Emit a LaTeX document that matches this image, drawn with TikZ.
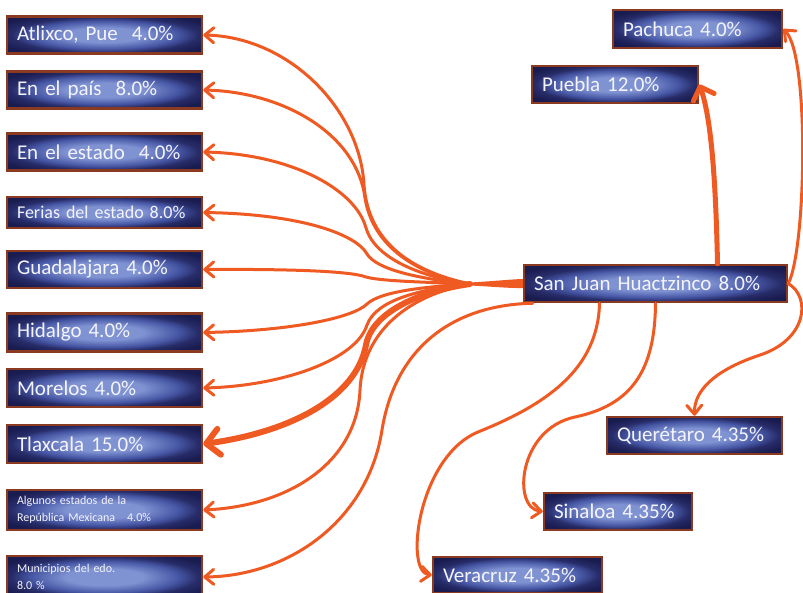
\documentclass[tikz,border=0pt]{standalone}
\usepackage{fontspec}
\setmainfont{Carlito}[WordSpace=0.75]
\usetikzlibrary{arrows.meta}
\definecolor{Flame}{HTML}{EF5A22}
\definecolor{TagBorder}{HTML}{8B3A22}
\definecolor{TagDark}{HTML}{1A1C50}
\definecolor{TagDeep}{HTML}{272C68}
\definecolor{TagMid}{HTML}{4656A4}
\definecolor{TagLight}{HTML}{7F92D2}
\definecolor{TagText}{HTML}{F4F4FA}
\pgfdeclareradialshading{tagglow}{\pgfpointorigin}{%
  color(0bp)=(TagLight); color(10bp)=(TagLight); color(19bp)=(TagMid);
  color(24bp)=(TagDeep); color(30bp)=(TagDark); color(50bp)=(TagDark)}

\begin{document}
\begin{tikzpicture}[
    x=1pt, y=-1pt,
    destination/.style={
        shade, shading=tagglow,
        draw=TagBorder, line width=2.5pt,
        text width=#1, align=left,
        inner xsep=10pt, inner ysep=0pt,
        minimum height=37pt,
        text=TagText,
        font=\fontsize{21}{25}\selectfont
    },
    small label/.style={font=\fontsize{12}{17}\selectfont},
    flow/.style={draw=Flame, line width=3pt, line cap=round,
                 -{Straight Barb[round,length=9pt,width=15pt]}},
    heavy flow/.style={flow, line width=6pt,
                 -{Straight Barb[round,length=13pt,width=26pt]}}
]
\path[use as bounding box, fill=white] (0,0) rectangle (803,593);

% Destinations on the left
\node[destination=175pt] (atlixco) at (104.5,35) {Atlixco, Pue\ \ 4.0\%};
\node[destination=175pt] (pais) at (104.5,90) {En el país\ \ 8.0\%};
\node[destination=175pt] (estado) at (104.5,152) {En el estado\ \ 4.0\%};
\node[destination=175pt, minimum height=31pt, font=\fontsize{18}{22}\selectfont]
    (ferias) at (104.5,212.5) {Ferias del estado 8.0\%};
\node[destination=175pt] (guadalajara) at (104.5,269.5) {Guadalajara 4.0\%};
\node[destination=175pt, minimum height=38pt] (hidalgo) at (104.5,332.5) {Hidalgo 4.0\%};
\node[destination=175pt, minimum height=38pt] (morelos) at (104.5,388) {Morelos 4.0\%};
\node[destination=175pt, minimum height=38pt] (tlaxcala) at (104.5,444) {Tlaxcala 15.0\%};
\node[destination=175pt, small label, minimum height=40pt] (algunos) at (104.5,510)
    {Algunos estados de la\\República Mexicana\ \ \ 4.0\%};
\node[destination=175pt, small label, minimum height=42pt] (municipios) at (104.5,577)
    {Municipios del edo.\\8.0 \%};

% Origin and destinations on the right
\node[destination=243pt] (sanjuan) at (655.5,283.5) {San Juan Huactzinco 8.0\%};
\node[destination=149pt, minimum height=38pt] (pachuca) at (697.5,29) {Pachuca 4.0\%};
\node[destination=146pt] (puebla) at (615,84.5) {Puebla 12.0\%};
\node[destination=155pt] (queretaro) at (694.5,435.5) {Querétaro 4.35\%};
\node[destination=128pt] (sinaloa) at (618,511.5) {Sinaloa 4.35\%};
\node[destination=149pt, minimum height=36pt] (veracruz) at (517.5,575) {Veracruz 4.35\%};

% Trunk of the fan
\coordinate (hub) at (470,284);
\coordinate (tail) at (430,284);
\fill[Flame] (tail) .. controls (480,283) and (505,279.5) .. ([yshift=4.5pt]sanjuan.west)
    -- ([yshift=-4.5pt]sanjuan.west) .. controls (505,288.5) and (480,285) .. cycle;

% Fan towards the left column
\draw[flow] (hub) .. controls (405,270) and (368,238) .. (364,185)
    .. controls (360,110) and (290,37) .. (atlixco.east);
\draw[flow] (hub) .. controls (410,273) and (372,242) .. (365,198)
    .. controls (357,135) and (285,92) .. (pais.east);
\draw[flow] (hub) .. controls (415,276) and (374,256) .. (366,228)
    .. controls (356,190) and (292,154) .. (estado.east);
\draw[flow] (hub) .. controls (420,279) and (377,270) .. (367,254)
    .. controls (356,234) and (300,214) .. (ferias.east);
\draw[flow] (hub) .. controls (420,282) and (380,281) .. (366,277)
    .. controls (350,271) and (290,269) .. (guadalajara.east);
\draw[flow] (hub) .. controls (420,287) and (380,292) .. (367,304)
    .. controls (353,318) and (290,331) .. (hidalgo.east);
\draw[flow] (hub) .. controls (420,289) and (376,300) .. (367,325)
    .. controls (356,360) and (282,386) .. (morelos.east);
\draw[heavy flow] (hub) .. controls (420,291) and (372,312) .. (366,345)
    .. controls (356,398) and (290,432) .. (tlaxcala.east);
\draw[flow] (hub) .. controls (410,295) and (363,330) .. (360,390)
    .. controls (357,462) and (290,506) .. (algunos.east);
\draw[flow] ([xshift=10pt]sanjuan.south west) .. controls (450,305) and (395,350) .. (382,430)
    .. controls (368,520) and (290,576) .. (municipios.east);

% Flows below the origin
\draw[flow] ([xshift=-56pt]sanjuan.south) .. controls (598,370) and (545,405) .. (478,432)
    .. controls (418,457) and (404,572) .. (veracruz.west);
\draw[flow] (sanjuan.south) .. controls (655,370) and (632,405) .. (575,417)
    .. controls (518,429) and (512,508) .. (sinaloa.west);

% Flows to the right
\draw[flow, line width=5pt, -{Straight Barb[round,length=11pt,width=22pt]}]
    ([xshift=62pt]sanjuan.north) .. controls (716,190) and (712,120) .. (puebla.east);
\draw[flow] (sanjuan.east) .. controls (806,250) and (810,55) .. (pachuca.east);
\draw[flow] (sanjuan.east) .. controls (812,298) and (806,340) .. (760,355)
    .. controls (712,371) and (694,392) .. (queretaro.north);

\end{tikzpicture}
\end{document}
